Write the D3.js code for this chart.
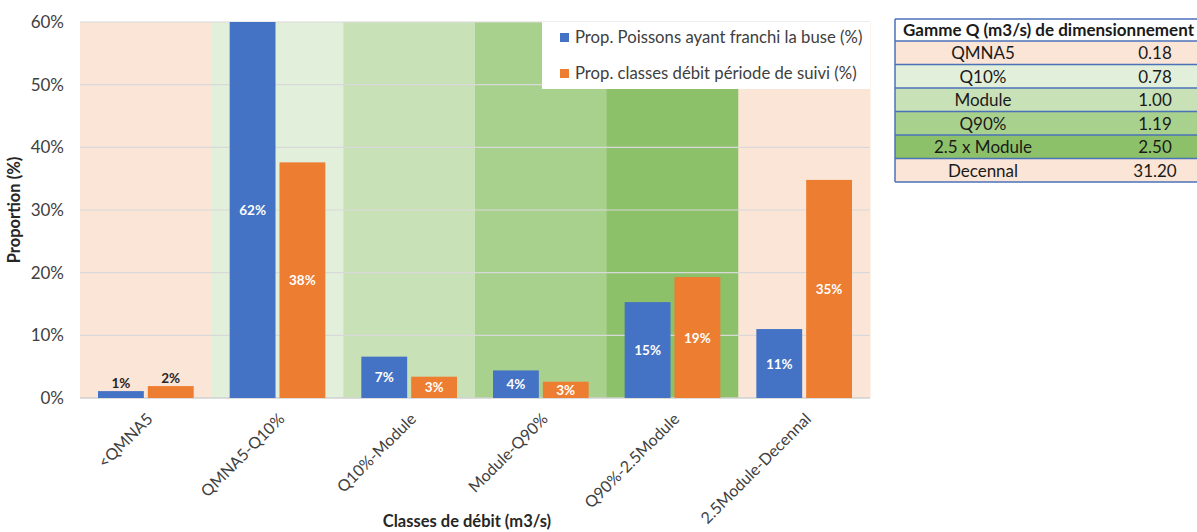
<!DOCTYPE html>
<html>
<head>
<meta charset="utf-8">
<script src="https://cdn.jsdelivr.net/npm/d3@7.9.0/dist/d3.min.js"></script>
<style>
  body { margin: 0; background: #fff; }
  svg { display: block; font-family: Lato, "Open Sans", sans-serif; }
</style>
</head>
<body>
<svg id="chart" width="1197" height="532"></svg>
<script>
const categories = ['<QMNA5', 'QMNA5-Q10%', 'Q10%-Module', 'Module-Q90%', 'Q90%-2.5Module', '2.5Module-Decennal'];
const poissons = [0.011, 0.62, 0.066, 0.044, 0.153, 0.11];
const debits = [0.019, 0.376, 0.034, 0.026, 0.193, 0.348];
const seriesNames = ['Prop. Poissons ayant franchi la buse (%)', 'Prop. classes débit période de suivi (%)'];
const seriesColors = ['#4472C4', '#ED7D31'];
const bandColors = ['#FBE5D6', '#E2EFDA', '#C8E1B6', '#A9D18E', '#8DC169', '#FBE5D6'];
const yTicks = [0, 0.1, 0.2, 0.3, 0.4, 0.5, 0.6];

const tableHeader = 'Gamme Q (m3/s) de dimensionnement';
const tableNames = ['QMNA5', 'Q10%', 'Module', 'Q90%', '2.5 x Module', 'Decennal'];
const tableValues = [0.18, 0.78, 1.00, 1.19, 2.50, 31.20];
const tableColors = ['#FBE5D6', '#E2EFDA', '#C8E1B6', '#A9D18E', '#8DC169', '#FBE5D6'];

const svg = d3.select('#chart');
const margin = { left: 80, right: 327, top: 22, bottom: 134 };
const width = 1197 - margin.left - margin.right;
const height = 532 - margin.top - margin.bottom;

const g = svg.append('g').attr('transform', `translate(${margin.left},${margin.top})`);

const x = d3.scaleBand().domain(categories).range([0, width]);
const xSub = d3.scaleBand().domain([0, 1]).range([18, x.bandwidth() - 18]).paddingInner(0.08);
const y = d3.scaleLinear().domain([0, 0.6]).range([height, 0]);

// background bands
g.selectAll('rect.band')
  .data(categories)
  .join('rect')
  .attr('class', 'band')
  .attr('x', (d) => x(d))
  .attr('y', 0)
  .attr('width', x.bandwidth() + 0.5)
  .attr('height', height)
  .attr('fill', (d, i) => bandColors[i]);

// gridlines
g.selectAll('line.grid')
  .data(yTicks.slice(1))
  .join('line')
  .attr('class', 'grid')
  .attr('x1', 0)
  .attr('x2', width)
  .attr('y1', (d) => y(d))
  .attr('y2', (d) => y(d))
  .attr('stroke', '#D9D9D9')
  .attr('stroke-width', 1.2);

g.append('line')
  .attr('x1', 0).attr('x2', width)
  .attr('y1', y(0)).attr('y2', y(0))
  .attr('stroke', '#D0D0D0').attr('stroke-width', 1.5);

g.append('clipPath').attr('id', 'plotclip')
  .append('rect').attr('width', width).attr('height', height);

const bars = [];
categories.forEach((c, i) => {
  [poissons[i], debits[i]].forEach((v, s) => bars.push({ cat: c, s, v }));
});

g.append('g').attr('clip-path', 'url(#plotclip)')
  .selectAll('rect')
  .data(bars)
  .join('rect')
  .attr('x', (d) => x(d.cat) + xSub(d.s))
  .attr('y', (d) => y(d.v))
  .attr('width', xSub.bandwidth())
  .attr('height', (d) => y(0) - y(d.v))
  .attr('fill', (d) => seriesColors[d.s]);

// data labels
const fmt = d3.format('.0%');
g.selectAll('text.lbl')
  .data(bars)
  .join('text')
  .attr('class', 'lbl')
  .attr('x', (d) => x(d.cat) + xSub(d.s) + xSub.bandwidth() / 2)
  .attr('y', (d) => d.v < 0.025 ? y(d.v) - 3 : (y(Math.min(d.v, 0.6)) + y(0)) / 2 + 5)
  .attr('text-anchor', 'middle')
  .attr('font-size', 13.5)
  .attr('font-weight', 'bold')
  .attr('fill', (d) => d.v < 0.025 ? '#262626' : '#fff')
  .text((d) => fmt(d.v));

// y axis labels
g.selectAll('text.ytick')
  .data(yTicks)
  .join('text')
  .attr('class', 'ytick')
  .attr('x', -16)
  .attr('y', (d) => y(d) + 6)
  .attr('text-anchor', 'end')
  .attr('font-size', 17)
  .attr('fill', '#404040')
  .text((d) => fmt(d));

g.append('text')
  .attr('transform', `translate(-60,${height / 2}) rotate(-90)`)
  .attr('text-anchor', 'middle')
  .attr('font-size', 16.5)
  .attr('font-weight', 'bold')
  .attr('fill', '#262626')
  .text('Proportion (%)');

// x axis labels
g.selectAll('text.xtick')
  .data(categories)
  .join('text')
  .attr('class', 'xtick')
  .attr('transform', (d) => `translate(${x(d) + x.bandwidth() / 2 + 8},${height + 22}) rotate(-45)`)
  .attr('text-anchor', 'end')
  .attr('font-size', 16)
  .attr('fill', '#404040')
  .text((d) => d);

g.append('text')
  .attr('x', width / 2 - 8)
  .attr('y', height + 129)
  .attr('text-anchor', 'middle')
  .attr('font-size', 16.5)
  .attr('font-weight', 'bold')
  .attr('fill', '#262626')
  .text('Classes de débit (m3/s)');

// legend
const legend = g.append('g').attr('transform', `translate(${width - 328},0)`);
legend.append('rect').attr('width', 328).attr('height', 67).attr('fill', '#fff');
seriesNames.forEach((name, i) => {
  legend.append('rect')
    .attr('x', 18).attr('y', 11 + i * 36)
    .attr('width', 9).attr('height', 9)
    .attr('fill', seriesColors[i]);
  legend.append('text')
    .attr('x', 33).attr('y', 21 + i * 36)
    .attr('font-size', 16.7)
    .attr('fill', '#404040')
    .text(name);
});

// table
const tbl = svg.append('g').attr('transform', 'translate(895,19)');
const rowH = 23.5;
tbl.append('rect').attr('width', 340).attr('height', 22).attr('fill', '#fff');
tbl.append('text')
  .attr('x', 8).attr('y', 17)
  .attr('font-size', 17)
  .attr('font-weight', 'bold')
  .attr('fill', '#1a1a1a')
  .text(tableHeader);
tableNames.forEach((name, i) => {
  const ry = 22 + i * rowH;
  tbl.append('rect').attr('y', ry).attr('width', 340).attr('height', rowH).attr('fill', tableColors[i]);
  tbl.append('text')
    .attr('x', 88).attr('y', ry + 18)
    .attr('text-anchor', 'middle').attr('font-size', 17).attr('fill', '#1a1a1a')
    .text(name);
  tbl.append('text')
    .attr('x', 260).attr('y', ry + 18)
    .attr('text-anchor', 'middle').attr('font-size', 17).attr('fill', '#1a1a1a')
    .text(tableValues[i].toFixed(2));
});
d3.range(tableNames.length + 2).forEach((k) => {
  const ly = k === 0 ? 0 : 22 + (k - 1) * rowH;
  tbl.append('line')
    .attr('x1', 0).attr('x2', 340)
    .attr('y1', ly).attr('y2', ly)
    .attr('stroke', '#4A72B8').attr('stroke-width', 1.5);
});
tbl.append('line')
  .attr('x1', 0).attr('x2', 0)
  .attr('y1', 0).attr('y2', 22 + tableNames.length * rowH)
  .attr('stroke', '#4A72B8').attr('stroke-width', 1.5);
</script>
</body>
</html>
